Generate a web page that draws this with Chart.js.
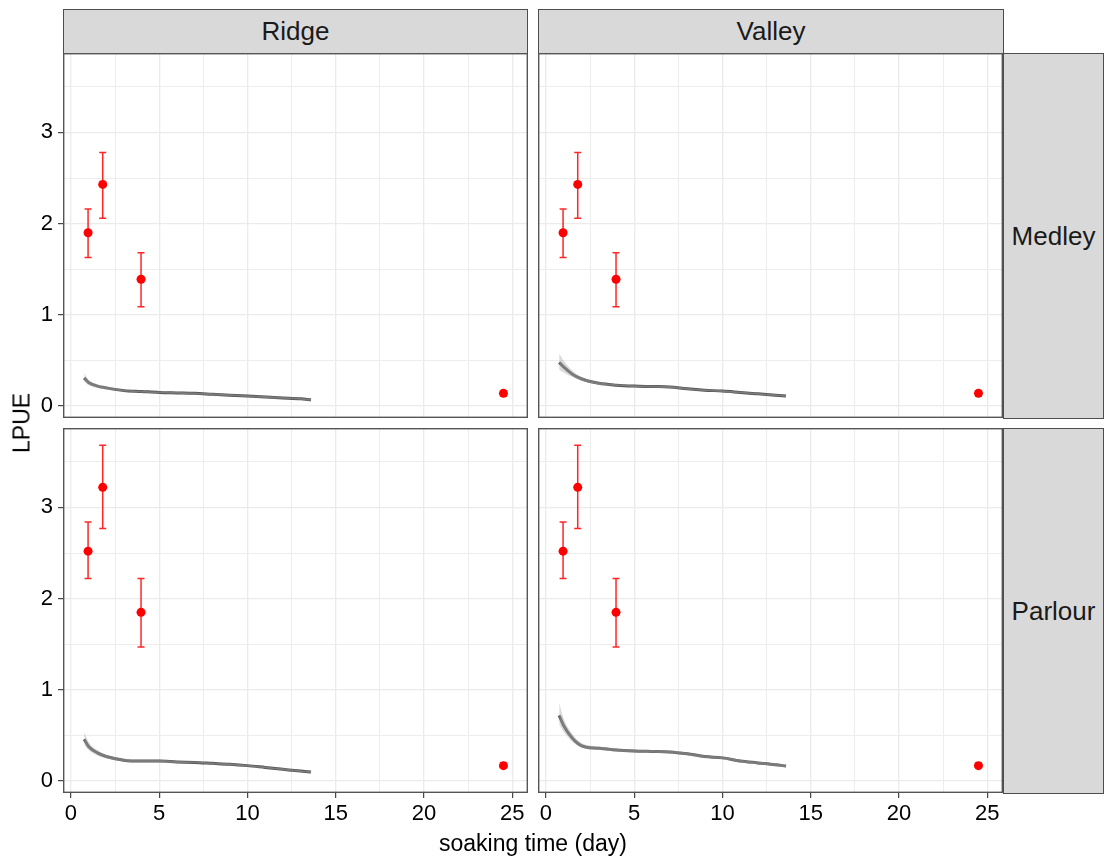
<!DOCTYPE html>
<html>
<head>
<meta charset="utf-8">
<script src="https://cdn.jsdelivr.net/npm/chart.js@4"></script>
<style>
  body { margin: 0; background: #fff; font-family: "Liberation Sans", Arial, sans-serif; }
  #wrap { position: relative; width: 1105px; height: 861px; overflow: hidden; }
  canvas { position: absolute; }
  .strip { position: absolute; background: #D9D9D9; border: 1px solid #4D4D4D; box-sizing: border-box;
           display: flex; align-items: center; justify-content: center; color: #1A1A1A; font-size: 26px; }
  .title { position: absolute; color: #000; font-size: 23px; white-space: nowrap; }
</style>
</head>
<body>
<div id="wrap">
  <div class="strip" style="left:63px;top:9px;width:465px;height:45px;">Ridge</div>
  <div class="strip" style="left:538px;top:9px;width:466px;height:45px;">Valley</div>
  <div class="strip" style="left:1003px;top:53px;width:101px;height:366px;">Medley</div>
  <div class="strip" style="left:1003px;top:428px;width:101px;height:366px;">Parlour</div>
  <canvas id="c_rm" width="528" height="365" style="left:0;top:53px;"></canvas>
  <canvas id="c_vm" width="465" height="365" style="left:538px;top:53px;"></canvas>
  <canvas id="c_rp" width="528" height="433" style="left:0;top:428px;"></canvas>
  <canvas id="c_vp" width="465" height="433" style="left:538px;top:428px;"></canvas>
  <div class="title" style="left:533px;top:843px;transform:translate(-50%,-50%);">soaking time (day)</div>
  <div class="title" style="left:22px;top:423px;transform:translate(-50%,-50%) rotate(-90deg);">LPUE</div>
</div>
<script>
// grid positions; only the majors carry a label
const xGrid = [0, 2.5, 5, 7.5, 10, 12.5, 15, 17.5, 20, 22.5, 25];
const xMajor = [0, 5, 10, 15, 20, 25];
const yGrid = [0, 0.5, 1, 1.5, 2, 2.5, 3, 3.5];
const yMajor = [0, 1, 2, 3];

// observed means with error bars (same in both areas)
const obsTime = [0.97, 1.8, 3.97, 24.5];
const medleyMean = [1.90, 2.43, 1.39, 0.14];
const medleyLo   = [1.63, 2.06, 1.09, 0.11];
const medleyHi   = [2.16, 2.78, 1.68, 0.17];
const parlourMean = [2.52, 3.22, 1.85, 0.17];
const parlourLo   = [2.22, 2.77, 1.47, 0.15];
const parlourHi   = [2.84, 3.68, 2.22, 0.20];

// fitted curves
const fitTime = [0.75, 1, 1.5, 2, 3, 4, 5, 6, 7, 8, 9, 10, 11, 12, 13, 13.6];
const ridgeMedleyFit = [0.31, 0.26, 0.22, 0.20, 0.17, 0.16, 0.15, 0.145, 0.14, 0.13, 0.12, 0.11, 0.10, 0.09, 0.08, 0.07];
const ridgeMedleyLow = [0.27, 0.23, 0.20, 0.185, 0.16, 0.15, 0.14, 0.135, 0.13, 0.12, 0.11, 0.10, 0.09, 0.08, 0.07, 0.06];
const ridgeMedleyUpp = [0.36, 0.29, 0.24, 0.215, 0.18, 0.17, 0.16, 0.155, 0.15, 0.14, 0.13, 0.12, 0.11, 0.10, 0.09, 0.08];
const valleyMedleyFit = [0.48, 0.43, 0.35, 0.30, 0.25, 0.23, 0.22, 0.215, 0.21, 0.19, 0.175, 0.165, 0.15, 0.135, 0.12, 0.11];
const valleyMedleyLow = [0.40, 0.37, 0.32, 0.28, 0.235, 0.22, 0.21, 0.205, 0.20, 0.18, 0.165, 0.155, 0.14, 0.125, 0.11, 0.10];
const valleyMedleyUpp = [0.58, 0.50, 0.39, 0.32, 0.265, 0.24, 0.23, 0.225, 0.22, 0.20, 0.185, 0.175, 0.16, 0.145, 0.13, 0.12];
const ridgeParlourFit = [0.46, 0.38, 0.31, 0.27, 0.23, 0.22, 0.22, 0.21, 0.205, 0.195, 0.185, 0.17, 0.15, 0.13, 0.11, 0.10];
const ridgeParlourLow = [0.40, 0.34, 0.28, 0.25, 0.215, 0.205, 0.205, 0.20, 0.195, 0.185, 0.175, 0.16, 0.14, 0.12, 0.10, 0.09];
const ridgeParlourUpp = [0.54, 0.43, 0.34, 0.29, 0.245, 0.235, 0.235, 0.22, 0.215, 0.205, 0.195, 0.18, 0.16, 0.14, 0.12, 0.11];
const valleyParlourFit = [0.72, 0.61, 0.47, 0.39, 0.36, 0.34, 0.33, 0.325, 0.32, 0.30, 0.27, 0.255, 0.22, 0.20, 0.18, 0.165];
const valleyParlourLow = [0.62, 0.54, 0.43, 0.37, 0.34, 0.325, 0.315, 0.31, 0.305, 0.285, 0.255, 0.24, 0.205, 0.185, 0.165, 0.15];
const valleyParlourUpp = [0.86, 0.69, 0.52, 0.42, 0.38, 0.355, 0.345, 0.34, 0.335, 0.315, 0.285, 0.27, 0.235, 0.215, 0.195, 0.18];

const FONT = '"Liberation Sans", Arial, sans-serif';

function pts(xs, ys) {
    return xs.map(function(x, i) { return { x: x, y: ys[i] }; });
}

// error bars + panel frame
const panelPlugin = {
    id: 'panel',
    afterDatasetsDraw: function(chart) {
        const ctx = chart.ctx, a = chart.chartArea;
        const xs = chart.scales.x, ys = chart.scales.y;
        ctx.save();
        ctx.beginPath();
        ctx.rect(a.left, a.top, a.right - a.left, a.bottom - a.top);
        ctx.clip();
        chart.data.datasets.forEach(function(ds) {
            if (!ds.errLo) return;
            ctx.strokeStyle = 'rgba(255,0,0,0.85)';
            ctx.lineWidth = 1.5;
            ds.data.forEach(function(p, i) {
                const px = xs.getPixelForValue(p.x);
                const y1 = ys.getPixelForValue(ds.errLo[i]);
                const y2 = ys.getPixelForValue(ds.errHi[i]);
                ctx.beginPath();
                ctx.moveTo(px, y1); ctx.lineTo(px, y2);
                ctx.moveTo(px - 3.5, y1); ctx.lineTo(px + 3.5, y1);
                ctx.moveTo(px - 3.5, y2); ctx.lineTo(px + 3.5, y2);
                ctx.stroke();
            });
        });
        ctx.restore();
    },
    afterDraw: function(chart) {
        const ctx = chart.ctx, a = chart.chartArea;
        ctx.save();
        ctx.strokeStyle = '#555555';
        ctx.lineWidth = 1.4;
        ctx.strokeRect(a.left + 0.7, a.top + 0.7, a.right - a.left - 1.4, a.bottom - a.top - 1.4);
        ctx.restore();
    }
};

function makePanel(id, fit, low, upp, mean, lo, hi, showX, showY) {
    const ctx = document.getElementById(id).getContext('2d');
    new Chart(ctx, {
        type: 'line',
        data: {
            datasets: [
                { data: pts(fitTime, low), borderWidth: 0, pointRadius: 0, fill: false,
                  cubicInterpolationMode: 'monotone' },
                { data: pts(fitTime, upp), borderWidth: 0, pointRadius: 0, fill: '-1',
                  backgroundColor: 'rgba(175,175,175,0.45)', cubicInterpolationMode: 'monotone' },
                { data: pts(fitTime, fit), borderColor: '#505050', borderWidth: 3, pointRadius: 0,
                  fill: false, cubicInterpolationMode: 'monotone' },
                { data: pts(obsTime, mean), showLine: false, pointRadius: 4.5, pointBorderWidth: 0,
                  pointBackgroundColor: '#FF0000', errLo: lo, errHi: hi }
            ]
        },
        options: {
            responsive: false,
            animation: false,
            devicePixelRatio: 1,
            layout: { padding: 0, autoPadding: false },
            plugins: { legend: { display: false }, tooltip: { enabled: false } },
            scales: {
                x: {
                    type: 'linear', min: -0.45, max: 25.89,
                    border: { display: false },
                    afterBuildTicks: function(s) { s.ticks = xGrid.map(function(v) { return { value: v }; }); },
                    grid: {
                        color: '#EBEBEB',
                        lineWidth: function(c) { return xMajor.includes(c.tick.value) ? 1.3 : 0.9; },
                        drawTicks: showX, tickLength: 5, tickWidth: 1.1,
                        tickColor: function(c) { return xMajor.includes(c.tick.value) ? '#333333' : 'rgba(0,0,0,0)'; }
                    },
                    ticks: {
                        display: showX, autoSkip: false,
                        maxRotation: 0, padding: 3, color: '#000',
                        font: { family: FONT, size: 22 },
                        callback: function(v) { return xMajor.includes(v) ? String(v) : ''; }
                    },
                    afterFit: function(s) {
                        s.height = showX ? 68 : 0;
                        s.paddingLeft = 0; s.paddingRight = 0; s.paddingTop = 0; s.paddingBottom = 0;
                    }
                },
                y: {
                    type: 'linear', min: -0.13, max: 3.87,
                    border: { display: false },
                    afterBuildTicks: function(s) { s.ticks = yGrid.map(function(v) { return { value: v }; }); },
                    grid: {
                        color: '#EBEBEB',
                        lineWidth: function(c) { return yMajor.includes(c.tick.value) ? 1.3 : 0.9; },
                        drawTicks: showY, tickLength: 5, tickWidth: 1.1,
                        tickColor: function(c) { return yMajor.includes(c.tick.value) ? '#333333' : 'rgba(0,0,0,0)'; }
                    },
                    ticks: {
                        display: showY, autoSkip: false,
                        padding: 5, color: '#000',
                        font: { family: FONT, size: 22 },
                        callback: function(v) { return yMajor.includes(v) ? String(v) : ''; }
                    },
                    afterFit: function(s) {
                        s.width = showY ? 63 : 0;
                        s.paddingLeft = 0; s.paddingRight = 0; s.paddingTop = 0; s.paddingBottom = 0;
                    }
                }
            }
        },
        plugins: [panelPlugin]
    });
}

makePanel('c_rm', ridgeMedleyFit, ridgeMedleyLow, ridgeMedleyUpp, medleyMean, medleyLo, medleyHi, false, true);
makePanel('c_vm', valleyMedleyFit, valleyMedleyLow, valleyMedleyUpp, medleyMean, medleyLo, medleyHi, false, false);
makePanel('c_rp', ridgeParlourFit, ridgeParlourLow, ridgeParlourUpp, parlourMean, parlourLo, parlourHi, true, true);
makePanel('c_vp', valleyParlourFit, valleyParlourLow, valleyParlourUpp, parlourMean, parlourLo, parlourHi, true, false);
</script>
</body>
</html>
